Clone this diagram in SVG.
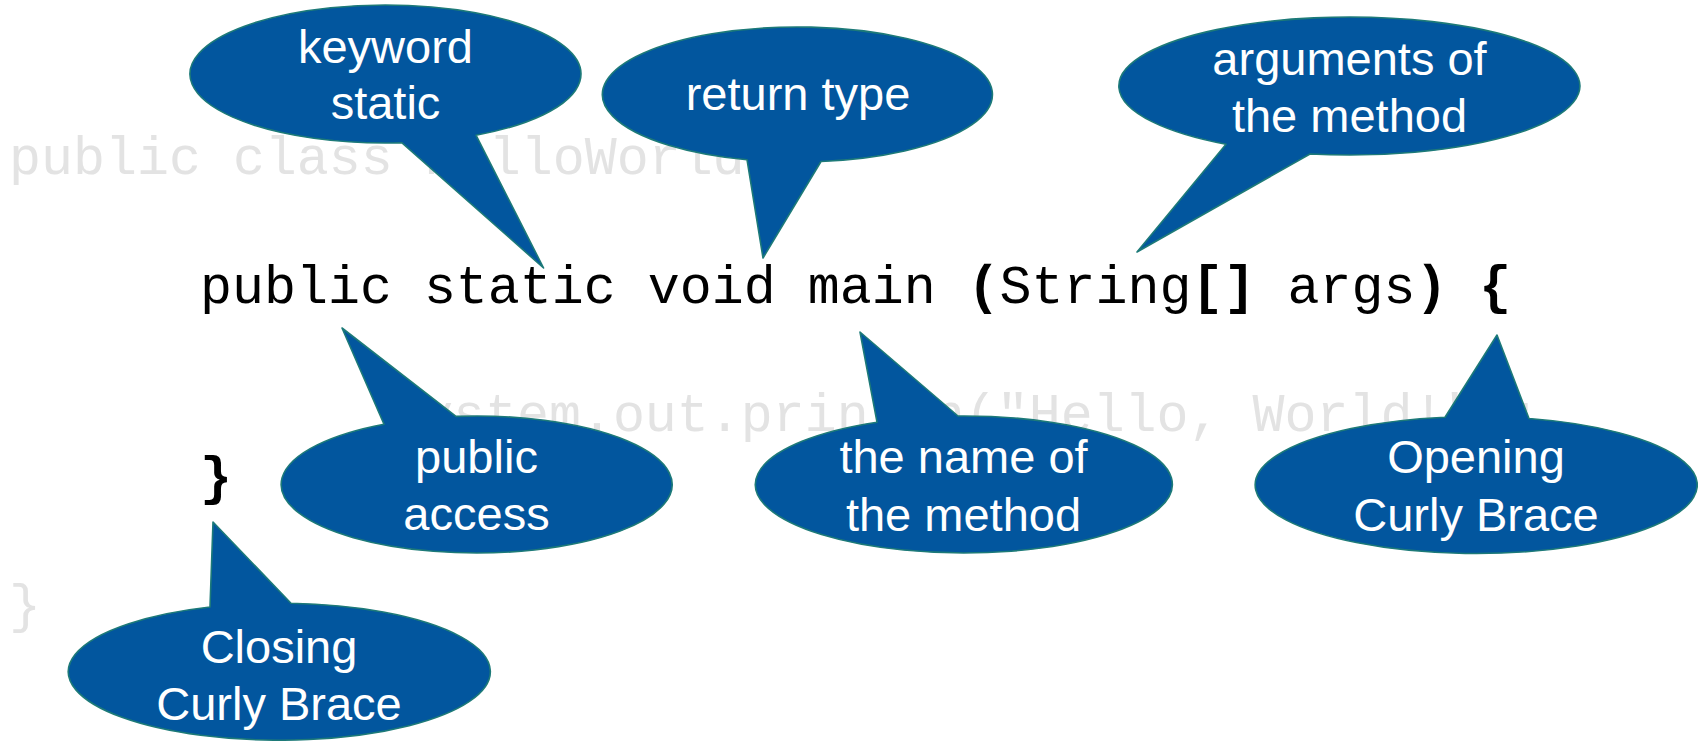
<svg xmlns="http://www.w3.org/2000/svg" width="1698" height="741" viewBox="0 0 1698 741">
  <style>
    .code { font-family: "Liberation Mono", "Courier New", monospace; font-size: 53.3px; }
    .faint { fill: #e3e3e3; }
    .ink { fill: #000000; }
    .b { font-weight: bold; }
    .bubble { fill: #02569e; stroke: #1d7a78; stroke-width: 1.6; stroke-linejoin: round; }
    .label { font-family: "Liberation Sans", Arial, sans-serif; font-size: 47px; fill: #ffffff; text-anchor: middle; }
  </style>
  <rect width="1698" height="741" fill="#ffffff"/>

  <!-- Java source, faded except for the method header -->
  <g id="code">
    <text class="code faint" x="9" y="174">public class HelloWorld {</text>
    <text class="code ink" x="200" y="303" xml:space="preserve">public static void main <tspan class="b">(</tspan>String<tspan class="b">[]</tspan> args<tspan class="b">)</tspan> <tspan class="b">{</tspan></text>
    <text class="code faint" x="389" y="431">System.out.println("Hello, World!");</text>
    <text class="code ink b" x="200" y="494">}</text>
    <text class="code faint" x="9" y="622">}</text>
  </g>

  <!-- Speech-bubble callouts: ellipse body with a pointed tail -->
  <g id="callout-keyword-static">
    <path class="bubble" d="M402,142.8 A195.5,69 0 1 1 476,135.2 L543.6,268 Z"/>
    <text class="label" x="385.5" y="63">keyword</text>
    <text class="label" x="385.5" y="119">static</text>
  </g>

  <g id="callout-return-type">
    <path class="bubble" d="M747,159.7 A195,67.5 0 1 1 821,161.5 L763,258 Z"/>
    <text class="label" x="798" y="109.5">return type</text>
  </g>

  <g id="callout-arguments">
    <path class="bubble" d="M1226,144.3 A230.5,69 0 1 1 1310,154 L1137,252 Z"/>
    <text class="label" x="1349.5" y="75">arguments of</text>
    <text class="label" x="1349.5" y="131.5">the method</text>
  </g>

  <g id="callout-public-access">
    <path class="bubble" d="M384,424.2 A195.5,68.5 0 1 0 456,416.4 L342,328 Z"/>
    <text class="label" x="476.5" y="472.5">public</text>
    <text class="label" x="476.5" y="530">access</text>
  </g>

  <g id="callout-method-name">
    <path class="bubble" d="M877,422.2 A208.5,68.5 0 1 0 958,416 L860,332 Z"/>
    <text class="label" x="963.5" y="473">the name of</text>
    <text class="label" x="963.5" y="531">the method</text>
  </g>

  <g id="callout-opening-brace">
    <path class="bubble" d="M1445,417.2 A221,68.5 0 1 0 1529,418.5 L1497,335 Z"/>
    <text class="label" x="1476" y="473">Opening</text>
    <text class="label" x="1476" y="531">Curly Brace</text>
  </g>

  <g id="callout-closing-brace">
    <path class="bubble" d="M210,607 A211,68.5 0 1 0 291,603.3 L213,522 Z"/>
    <text class="label" x="279" y="663">Closing</text>
    <text class="label" x="279" y="720">Curly Brace</text>
  </g>
</svg>
